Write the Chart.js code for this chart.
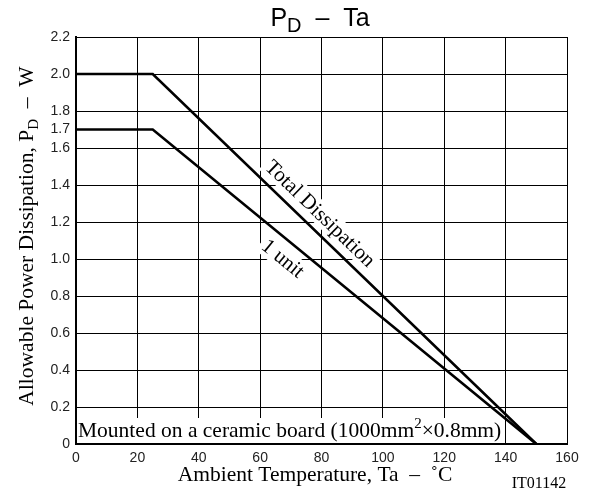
<!DOCTYPE html>
<html>
<head>
<meta charset="utf-8">
<script src="https://cdn.jsdelivr.net/npm/chart.js@4.4.1/dist/chart.umd.min.js"></script>
<style>
  html, body { margin: 0; padding: 0; background: #fff; }
  #wrap { width: 593px; height: 492px; position: relative; }
</style>
</head>
<body>
<div id="wrap"><canvas id="pdChart"></canvas></div>
<script>
// derating curve data
const tempPoints = [0, 25, 150];          // Ta, degC
const totalPower = [2.0, 2.0, 0];         // Total Dissipation, W
const unitPower = [1.7, 1.7, 0];          // 1 unit, W
const xTickValues = [0, 20, 40, 60, 80, 100, 120, 140, 160];
const yTickValues = [0, 0.2, 0.4, 0.6, 0.8, 1.0, 1.2, 1.4, 1.6, 1.7, 1.8, 2.0, 2.2];

const serif = "'Liberation Serif', 'Times New Roman', serif";
const sans = "'Liberation Sans', Arial, sans-serif";

function toXY(xs, ys) {
    return xs.map((x, i) => ({ x: x, y: ys[i] }));
}

// draws text centred on a point along a series, rotated to the line, with white box behind
function lineLabel(chart, text, xs, ys, atX, offset) {
    const ctx = chart.ctx;
    const sx = chart.scales.x, sy = chart.scales.y;
    // use the sloped segment (index 1 -> 2)
    const x1 = sx.getPixelForValue(xs[1]), y1 = sy.getPixelForValue(ys[1]);
    const x2 = sx.getPixelForValue(xs[2]), y2 = sy.getPixelForValue(ys[2]);
    const ang = Math.atan2(y2 - y1, x2 - x1);
    const t = (atX - xs[1]) / (xs[2] - xs[1]);
    const vy = ys[1] + (ys[2] - ys[1]) * t;
    let px = sx.getPixelForValue(atX), py = sy.getPixelForValue(vy);
    // offset perpendicular to the line (positive = above/right)
    px += Math.sin(ang) * offset;
    py -= Math.cos(ang) * offset;
    ctx.save();
    ctx.font = '21px ' + serif;
    const w = ctx.measureText(text).width;
    ctx.translate(px, py);
    ctx.rotate(ang);
    ctx.fillStyle = '#fff';
    ctx.fillRect(-w / 2 - 3, -11, w + 6, 22);
    ctx.fillStyle = '#000';
    ctx.textAlign = 'center';
    ctx.textBaseline = 'middle';
    ctx.fillText(text, 0, 1);
    ctx.restore();
}

// draw a run of [text, mode] pieces, mode: 'n' normal, 'sub', 'sup'
function drawRich(ctx, pieces, x, y, size, family, align, smallRatio) {
    const r = smallRatio || 0.72;
    const fontFor = p => (p[1] === 'n' ? size : Math.round(size * r)) + 'px ' + family;
    const widths = pieces.map(p => {
        ctx.font = fontFor(p);
        return ctx.measureText(p[0]).width;
    });
    const total = widths.reduce((a, b) => a + b, 0);
    let cx = align === 'center' ? x - total / 2 : x;
    ctx.textAlign = 'left';
    ctx.textBaseline = 'alphabetic';
    pieces.forEach((p, i) => {
        ctx.font = fontFor(p);
        let dy = 0;
        if (p[1] === 'sub') dy = size * 0.22;
        if (p[1] === 'sup') dy = -size * 0.4;
        ctx.fillText(p[0], cx, y + dy);
        cx += widths[i];
    });
    return total;
}

const annotations = {
    id: 'annotations',
    beforeDatasetsDraw(chart) {
        const ctx = chart.ctx;
        const area = chart.chartArea;
        lineLabel(chart, 'Total Dissipation', tempPoints, totalPower, 76, 16);
        lineLabel(chart, '1 unit', tempPoints, unitPower, 71, -17);

        // board note at the bottom of the plot
        ctx.save();
        const size = 21.5;
        const pieces = [['Mounted on a ceramic board (1000mm', 'n'], ['2', 'sup'], ['\u00d70.8mm)', 'n']];
        let w = 0;
        pieces.forEach(p => {
            ctx.font = (p[1] === 'n' ? size : Math.round(size * 0.72)) + 'px ' + serif;
            w += ctx.measureText(p[0]).width;
        });
        ctx.fillStyle = '#fff';
        ctx.fillRect(area.left + 1.5, area.bottom - 26, w + 4, 25);
        ctx.fillStyle = '#000';
        drawRich(ctx, pieces, area.left + 2, area.bottom - 7, size, serif, 'left');
        ctx.restore();
    },
    afterDraw(chart) {
        const ctx = chart.ctx;
        ctx.save();
        ctx.fillStyle = '#000';
        // title
        drawRich(ctx, [['P', 'n'], ['D', 'sub'], ['  \u2013  Ta', 'n']], 320, 26, 25, sans, 'center', 0.8);
        // x axis title
        drawRich(ctx, [['Ambient Temperature, Ta  \u2013  \u02daC', 'n']], 315, 481, 21.5, serif, 'center');
        // y axis title
        ctx.translate(33, 236);
        ctx.rotate(-Math.PI / 2);
        drawRich(ctx, [['Allowable Power Dissipation, P', 'n'], ['D', 'sub'], ['  \u2013  W', 'n']], 0, 0, 21.5, serif, 'center');
        ctx.restore();
        ctx.save();
        ctx.fillStyle = '#000';
        ctx.font = '16px ' + serif;
        ctx.textAlign = 'center';
        ctx.textBaseline = 'alphabetic';
        ctx.fillText('IT01142', 539, 488);
        ctx.restore();
    }
};

const config = {
    type: 'line',
    data: {
        datasets: [
            {
                label: 'Total Dissipation',
                data: toXY(tempPoints, totalPower),
                borderColor: '#000',
                borderWidth: 2.6,
                pointRadius: 0,
                tension: 0
            },
            {
                label: '1 unit',
                data: toXY(tempPoints, unitPower),
                borderColor: '#000',
                borderWidth: 2.6,
                pointRadius: 0,
                tension: 0
            }
        ]
    },
    options: {
        responsive: true,
        maintainAspectRatio: false,
        animation: false,
        layout: { padding: { left: 0, top: 37, right: 26, bottom: 0 } },
        plugins: {
            legend: { display: false },
            title: { display: false },
            tooltip: { enabled: false }
        },
        scales: {
            x: {
                type: 'linear',
                min: 0,
                max: 160,
                afterBuildTicks: function(scale) {
                    scale.ticks = xTickValues.map(v => ({ value: v }));
                },
                afterFit: function(scale) { scale.height = 48; },
                grid: { color: '#000', lineWidth: 1, drawTicks: false },
                border: { color: '#000', width: 2 },
                ticks: {
                    padding: 6,
                    maxRotation: 0,
                    color: '#222',
                    font: { family: sans, size: 14 }
                }
            },
            y: {
                type: 'linear',
                min: 0,
                max: 2.2,
                afterBuildTicks: function(scale) {
                    scale.ticks = yTickValues.map(v => ({ value: v }));
                },
                afterFit: function(scale) { scale.width = 76; },
                grid: {
                    color: function(c) {
                        return c.tick && Math.abs(c.tick.value - 1.7) < 1e-6 ? 'rgba(0,0,0,0)' : '#000';
                    },
                    lineWidth: 1,
                    drawTicks: false
                },
                border: { color: '#000', width: 2 },
                ticks: {
                    padding: 6,
                    color: '#222',
                    font: { family: sans, size: 14 },
                    callback: function(v) { return v === 0 ? '0' : Number(v).toFixed(1); }
                }
            }
        }
    },
    plugins: [annotations]
};

new Chart(document.getElementById('pdChart'), config);
</script>
</body>
</html>
